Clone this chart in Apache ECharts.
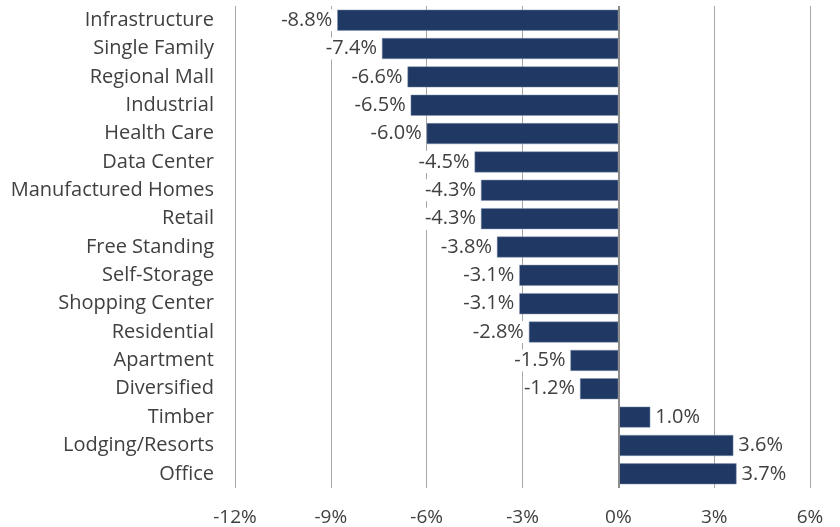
<!DOCTYPE html>
<html>
<head>
<meta charset="utf-8">
<script src="https://cdn.jsdelivr.net/npm/echarts@6/dist/echarts.min.js"></script>
<style>html,body{margin:0;padding:0;background:#fff;}#c{width:840px;height:527px;}</style>
</head>
<body>
<div id="c"></div>
<script>
const categories = ["Infrastructure","Single Family","Regional Mall","Industrial","Health Care","Data Center","Manufactured Homes","Retail","Free Standing","Self-Storage","Shopping Center","Residential","Apartment","Diversified","Timber","Lodging/Resorts","Office"];
const values = [-8.8,-7.4,-6.6,-6.5,-6.0,-4.5,-4.3,-4.3,-3.8,-3.1,-3.1,-2.8,-1.5,-1.2,1.0,3.6,3.7];
const xTicks = [-12,-9,-6,-3,0,3,6];

const FONT = 'Open Sans';
const TXT = '#404040';
const chart = echarts.init(document.getElementById('c'));
chart.setOption({
  animation: false,
  backgroundColor: '#fff',
  grid: {left: 235, right: 30, top: 6, bottom: 39, containLabel: false},
  xAxis: {
    type: 'value', min: xTicks[0], max: xTicks[xTicks.length-1], interval: 3,
    axisLine: {show: false}, axisTick: {show: false},
    splitLine: {show: true, lineStyle: {color: '#a6a6a6', width: 1}},
    axisLabel: {color: TXT, fontFamily: FONT, fontSize: 19, margin: 20, formatter: v => v + '%'}
  },
  yAxis: {
    type: 'category', data: categories, inverse: true,
    axisLine: {show: false}, axisTick: {show: false},
    axisLabel: {color: TXT, fontFamily: FONT, fontSize: 20, margin: 21}
  },
  series: [{
    type: 'bar',
    barCategoryGap: '26%',
    itemStyle: {color: '#203864', borderColor: '#8497b0', borderWidth: 0.5},
    data: values.map(v => ({
      value: v,
      label: {position: v < 0 ? 'left' : 'right'}
    })),
    label: {
      show: true, color: TXT, fontFamily: FONT, fontSize: 20, distance: 4,
      backgroundColor: '#fff', padding: [1, 1],
      formatter: p => p.value.toFixed(1) + '%'
    },
    markLine: {
      silent: true, symbol: 'none', label: {show: false},
      lineStyle: {color: '#8c8c8c', width: 2, type: 'solid'},
      data: [{xAxis: 0}]
    }
  }]
});
</script>
</body>
</html>
